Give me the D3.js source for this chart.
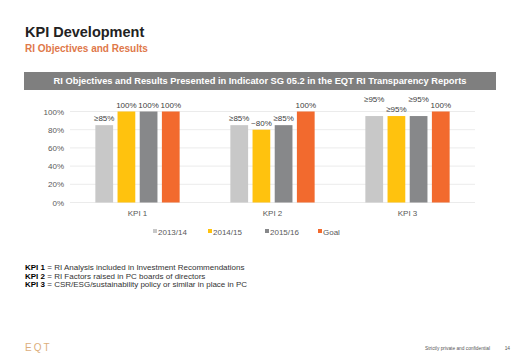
<!DOCTYPE html>
<html><head><meta charset="utf-8">
<script src="https://cdn.jsdelivr.net/npm/d3@7"></script>
<style>
html,body{margin:0;padding:0;background:#fff;}
svg{display:block;font-family:Arial,"Liberation Sans",sans-serif;}
</style></head>
<body>
<svg id="c" width="520" height="360"></svg>
<script>
const categories = ["KPI 1", "KPI 2", "KPI 3"];
const seriesNames = ["2013/14", "2014/15", "2015/16", "Goal"];
const values2013 = [85, 85, 95];
const values2014 = [100, 80, 95];
const values2015 = [100, 85, 95];
const valuesGoal = [100, 100, 100];
const labels2013 = ["≥85%", "≥85%", "≥95%"];
const labels2014 = ["100%", "~80%", "≥95%"];
const labels2015 = ["100%", "≥85%", "≥95%"];
const labelsGoal = ["100%", "100%", "100%"];
const yTicks = [0, 20, 40, 60, 80, 100];
const colors = ["#c8c8c8", "#ffc20e", "#87888a", "#f26a2e"];

const svg = d3.select("#c");

// titles
svg.append("text").attr("x", 25).attr("y", 37).attr("font-size", 14.5).attr("font-weight", "bold")
  .attr("fill", "#222").text("KPI Development");
svg.append("text").attr("x", 25).attr("y", 51.5).attr("font-size", 10).attr("font-weight", "bold")
  .attr("fill", "#e0784a").text("RI Objectives and Results");

// header bar
svg.append("rect").attr("x", 24).attr("y", 72).attr("width", 472).attr("height", 18).attr("fill", "#7f7f7f");
svg.append("text").attr("x", 260).attr("y", 84).attr("text-anchor", "middle").attr("font-size", 9.3)
  .attr("font-weight", "bold").attr("fill", "#fff")
  .text("RI Objectives and Results Presented in Indicator SG 05.2 in the EQT RI Transparency Reports");

const m = {left: 70, right: 475, top: 111.5, bottom: 202.5};
const x0 = d3.scaleBand().domain(categories).range([m.left, m.right]).paddingInner(0.31).paddingOuter(0.155);
const x1 = d3.scaleBand().domain(seriesNames).range([0, x0.bandwidth()]).padding(0.2);
const y = d3.scaleLinear().domain([0, 100]).range([m.bottom, m.top]);

// gridlines
svg.append("g").selectAll("line").data(yTicks).join("line")
  .attr("x1", m.left).attr("x2", m.right)
  .attr("y1", d => y(d)).attr("y2", d => y(d))
  .attr("stroke", "#e6e6e6").attr("stroke-width", 0.8);

const yAxis = svg.append("g").attr("transform", `translate(${m.left},0)`)
  .call(d3.axisLeft(y).tickValues(yTicks).tickFormat(d => d + "%").tickSize(0).tickPadding(6));
yAxis.select(".domain").remove();
yAxis.selectAll("text").attr("font-size", 8).attr("fill", "#595959").attr("font-family", "Arial,'Liberation Sans',sans-serif");

const xAxis = svg.append("g").attr("transform", `translate(0,${m.bottom})`)
  .call(d3.axisBottom(x0).tickSize(0).tickPadding(8));
xAxis.select(".domain").remove();
xAxis.selectAll("text").attr("font-size", 8).attr("fill", "#595959").attr("font-family", "Arial,'Liberation Sans',sans-serif");

const allVals = [values2013, values2014, values2015, valuesGoal];
const allLabels = [labels2013, labels2014, labels2015, labelsGoal];
// label vertical nudges (the reference staggers some labels)
const labelShift = [[0, 0, -10], [0, 0, 0], [0, 0, -10], [0, 0, 0]];
const data = [];
seriesNames.forEach((s, si) => categories.forEach((c, ci) => {
  data.push({s, si, c, v: allVals[si][ci], label: allLabels[si][ci], dy: labelShift[si][ci]});
}));

svg.append("g").selectAll("rect").data(data).join("rect")
  .attr("x", d => x0(d.c) + x1(d.s)).attr("width", x1.bandwidth())
  .attr("y", d => y(d.v)).attr("height", d => y(0) - y(d.v))
  .attr("fill", d => colors[d.si]);

svg.append("g").selectAll("text").data(data).join("text")
  .attr("x", d => x0(d.c) + x1(d.s) + x1.bandwidth() / 2)
  .attr("y", d => y(d.v) - 4 + d.dy)
  .attr("text-anchor", "middle").attr("font-size", 8).attr("fill", "#404040")
  .text(d => d.label);

// legend
const legendX = [153, 208, 265, 318];
const lg = svg.append("g").selectAll("g").data(seriesNames).join("g")
  .attr("transform", (d, i) => `translate(${legendX[i]},232)`);
lg.append("rect").attr("x", 0).attr("y", -3).attr("width", 4).attr("height", 4).attr("fill", (d, i) => colors[i]);
lg.append("text").attr("x", 5).attr("y", 3).attr("font-size", 8).attr("fill", "#595959").text(d => d);

// footnotes
const notesKey = ["KPI 1", "KPI 2", "KPI 3"];
const notesText = [" = RI Analysis included in Investment  Recommendations",
  " = RI Factors raised in PC boards of directors",
  " = CSR/ESG/sustainability policy or similar in place in PC"];
const nt = svg.append("g").selectAll("text").data(notesKey).join("text")
  .attr("x", 25).attr("y", (d, i) => 270 + i * 8.6).attr("font-size", 8).attr("fill", "#333");
nt.append("tspan").attr("font-weight", "bold").attr("fill", "#000").text(d => d);
nt.append("tspan").text((d, i) => notesText[i]);

// footer
svg.append("text").attr("x", 25).attr("y", 351).attr("font-size", 10).attr("letter-spacing", 2)
  .attr("fill", "#dcae7c").text("EQT");
svg.append("text").attr("x", 490).attr("y", 350).attr("text-anchor", "end").attr("font-size", 4.8)
  .attr("fill", "#555").text("Strictly private and confidential");
svg.append("text").attr("x", 510).attr("y", 350).attr("text-anchor", "end").attr("font-size", 4.8)
  .attr("fill", "#555").text("14");
</script>
</body></html>
